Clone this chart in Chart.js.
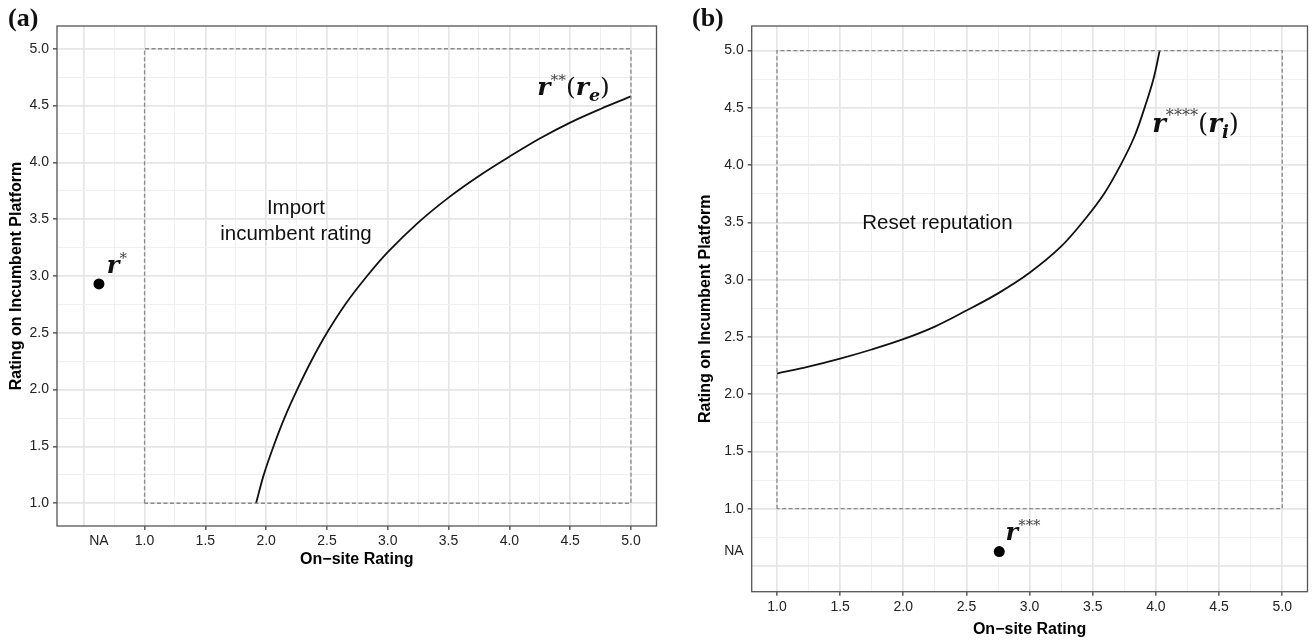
<!DOCTYPE html>
<html>
<head>
<meta charset="utf-8">
<script src="https://cdn.jsdelivr.net/npm/chart.js@4.4.1/dist/chart.umd.min.js"></script>
<style>
    html, body { margin: 0; padding: 0; background: #fff; }
    body { width: 1313px; height: 642px; position: relative; overflow: hidden; }
    .panel { position: absolute; top: 0; height: 642px; }
    #wrapA { left: 0; width: 662px; }
    #wrapB { left: 662px; width: 651px; }
    .tag { position: absolute; top: 5px; font: bold 26px "Liberation Serif", serif; line-height: 26px; color: #111; }
</style>
</head>
<body>
<div class="panel" id="wrapA"><canvas id="chartA" width="662" height="642"></canvas></div>
<div class="panel" id="wrapB"><canvas id="chartB" width="651" height="642"></canvas></div>
<div class="tag" style="left:8px">(a)</div>
<div class="tag" style="left:692px">(b)</div>

<script>
// --- 1. Data ---
const gridValues = [0.5, 0.75, 1.0, 1.25, 1.5, 1.75, 2.0, 2.25, 2.5, 2.75, 3.0, 3.25, 3.5, 3.75, 4.0, 4.25, 4.5, 4.75, 5.0];
const labelValues = [1.0, 1.5, 2.0, 2.5, 3.0, 3.5, 4.0, 4.5, 5.0];
const naValue = 0.625;   // where ggplot put the "NA" level

const boxX = [1, 1, 5, 5, 1];
const boxY = [1, 5, 5, 1, 1];

// panel (a): r**(r_e)
const curveAX = [1.917, 1.98, 2.06, 2.15, 2.255, 2.37, 2.5, 2.65, 2.83, 3.0, 3.25, 3.5, 3.75, 4.0, 4.25, 4.5, 4.75, 5.0];
const curveAY = [1.0, 1.25, 1.5, 1.75, 2.0, 2.25, 2.5, 2.75, 3.0, 3.21, 3.47, 3.69, 3.88, 4.05, 4.21, 4.35, 4.47, 4.58];
const pointAX = [naValue];
const pointAY = [2.93];

// panel (b): r****(r_i)
const curveBX = [1.0, 1.25, 1.5, 1.75, 2.0, 2.25, 2.5, 2.75, 3.0, 3.25, 3.44, 3.59, 3.72, 3.83, 3.91, 3.98, 4.03];
const curveBY = [2.18, 2.24, 2.31, 2.39, 2.48, 2.59, 2.73, 2.88, 3.06, 3.29, 3.53, 3.75, 4.0, 4.25, 4.5, 4.75, 5.0];
const pointBX = [2.76];
const pointBY = [naValue];

// --- 2. Styles ---
const inkColor = '#222';
const majorGrid = '#e6e6e6';
const minorGrid = '#f0f0f0';
const sans = '"Liberation Sans", Arial, sans-serif';
const serif = '"DejaVu Serif", serif';

const toPoints = (xs, ys) => xs.map((x, i) => ({ x: x, y: ys[i] }));
const isLabel = v => labelValues.some(l => Math.abs(l - v) < 1e-6);
const isMajor = v => Math.abs(v * 2 - Math.round(v * 2)) < 1e-6;

function axis(min, max, withNA, fitSize, isX, titleText, titlePad) {
    return {
        type: 'linear',
        min: min,
        max: max,
        afterBuildTicks: s => {
            const vals = gridValues.concat(withNA ? [naValue] : []).filter(v => v >= min && v <= max).sort((a, b) => a - b);
            s.ticks = vals.map(v => ({ value: v }));
        },
        afterFit: s => { if (isX) s.height = fitSize; else s.width = fitSize; },
        ticks: {
            autoSkip: false, maxRotation: 0, color: inkColor, padding: isX ? 3 : 4,
            font: { family: sans, size: 14 },
            callback: v => Math.abs(v - naValue) < 1e-6 ? 'NA' : (isLabel(v) ? v.toFixed(1) : '')
        },
        grid: {
            color: c => Math.abs(c.tick.value - naValue) < 1e-6 ? 'rgba(0,0,0,0)' : (isMajor(c.tick.value) ? majorGrid : minorGrid),
            lineWidth: c => isMajor(c.tick.value) ? 1.7 : 1,
            tickColor: c => isLabel(c.tick.value) ? '#333' : 'rgba(0,0,0,0)',
            tickLength: 4, tickWidth: 1.2
        },
        border: { display: false },
        title: {
            display: true, text: titleText, color: '#000',
            font: { family: sans, size: 16, weight: 'bold' },
            padding: titlePad
        }
    };
}

// panel frame
const panelBorder = {
    id: 'panelBorder',
    afterDraw(chart) {
        const { ctx, chartArea: a } = chart;
        ctx.save();
        ctx.strokeStyle = '#555';
        ctx.lineWidth = 1.3;
        ctx.strokeRect(a.left, a.top, a.right - a.left, a.bottom - a.top);
        ctx.restore();
    }
};

// texts and math labels placed in data units
function notes(texts, maths) {
    return {
        id: 'notes',
        afterDatasetsDraw(chart) {
            const { ctx, scales: { x, y } } = chart;
            ctx.save();
            ctx.fillStyle = '#111';
            ctx.textBaseline = 'alphabetic';
            texts.forEach(t => {
                ctx.font = '20.5px ' + sans;
                ctx.textAlign = 'center';
                ctx.fillText(t.text, x.getPixelForValue(t.x), y.getPixelForValue(t.y));
            });
            ctx.textAlign = 'left';
            maths.forEach(m => {
                let cx = x.getPixelForValue(m.x);
                const by = y.getPixelForValue(m.y);
                m.parts.forEach(p => {
                    const s = m.size * (p.scale || 1);
                    ctx.font = (p.style || '') + ' ' + s + 'px ' + serif;
                    ctx.fillStyle = p.color || '#111';
                    ctx.fillText(p.t, cx, by + (p.dy || 0) * m.size);
                    cx += ctx.measureText(p.t).width + (p.gap || 0);
                });
            });
            ctx.restore();
        }
    };
}

const rPart = { t: 'r', style: 'bold italic' };
const star = n => ({ t: '*'.repeat(n), scale: 0.62, dy: -0.42, color: '#444' });

function datasets(curve, point) {
    return [
        { data: toPoints(boxX, boxY), showLine: true, borderColor: '#8a8a8a', borderWidth: 1.3, borderDash: [4, 2.5], pointRadius: 0, tension: 0 },
        { data: curve, showLine: true, borderColor: '#111', borderWidth: 1.8, pointRadius: 0, tension: 0.35 },
        { data: point, showLine: false, pointRadius: 5.5, pointBackgroundColor: '#000', pointBorderWidth: 0 }
    ];
}

// --- 3. Panel (a) ---
new Chart(document.getElementById('chartA').getContext('2d'), {
    type: 'scatter',
    data: { datasets: datasets(toPoints(curveAX, curveAY), toPoints(pointAX, pointAY)) },
    options: {
        responsive: false, animation: false,
        layout: { padding: { top: 26, right: 1.3, bottom: 72, left: 0 } },
        scales: {
            x: axis(0.28, 5.21, true, 44, true, 'On\u2212site Rating', { top: 0, bottom: 1 }),
            y: axis(0.8, 5.2, false, 57, false, 'Rating on Incumbent Platform', { top: 6.5, bottom: 0 })
        },
        plugins: { legend: { display: false }, tooltip: { enabled: false } }
    },
    plugins: [panelBorder, notes(
        [{ x: 2.245, y: 3.55, text: 'Import' }, { x: 2.245, y: 3.32, text: 'incumbent rating' }],
        [
            { x: 0.69, y: 3.03, size: 24, parts: [rPart, star(1)] },
            { x: 4.23, y: 4.59, size: 25, parts: [rPart, star(2), { t: '(' }, rPart, { t: 'e', style: 'bold italic', scale: 0.7, dy: 0.22 }, { t: ')' }] }
        ]
    )]
});

// --- 4. Panel (b) ---
new Chart(document.getElementById('chartB').getContext('2d'), {
    type: 'scatter',
    data: { datasets: datasets(toPoints(curveBX, curveBY), toPoints(pointBX, pointBY)) },
    options: {
        responsive: false, animation: false,
        layout: { padding: { top: 26, right: 1.3, bottom: 0, left: 0 } },
        scales: {
            x: axis(0.8, 5.2, false, 50.3, true, 'On\u2212site Rating', { top: 0, bottom: 2.4 }),
            y: axis(0.275, 5.215, true, 89.7, false, 'Rating on Incumbent Platform', { top: 34.4, bottom: 0 })
        },
        plugins: { legend: { display: false }, tooltip: { enabled: false } }
    },
    plugins: [panelBorder, notes(
        [{ x: 2.27, y: 3.44, text: 'Reset reputation' }],
        [
            { x: 2.81, y: 0.73, size: 24, parts: [rPart, star(3)] },
            { x: 3.97, y: 4.29, size: 26, parts: [rPart, star(4), { t: '(' }, rPart, { t: 'i', style: 'bold italic', scale: 0.7, dy: 0.22 }, { t: ')' }] }
        ]
    )]
});
</script>
</body>
</html>
